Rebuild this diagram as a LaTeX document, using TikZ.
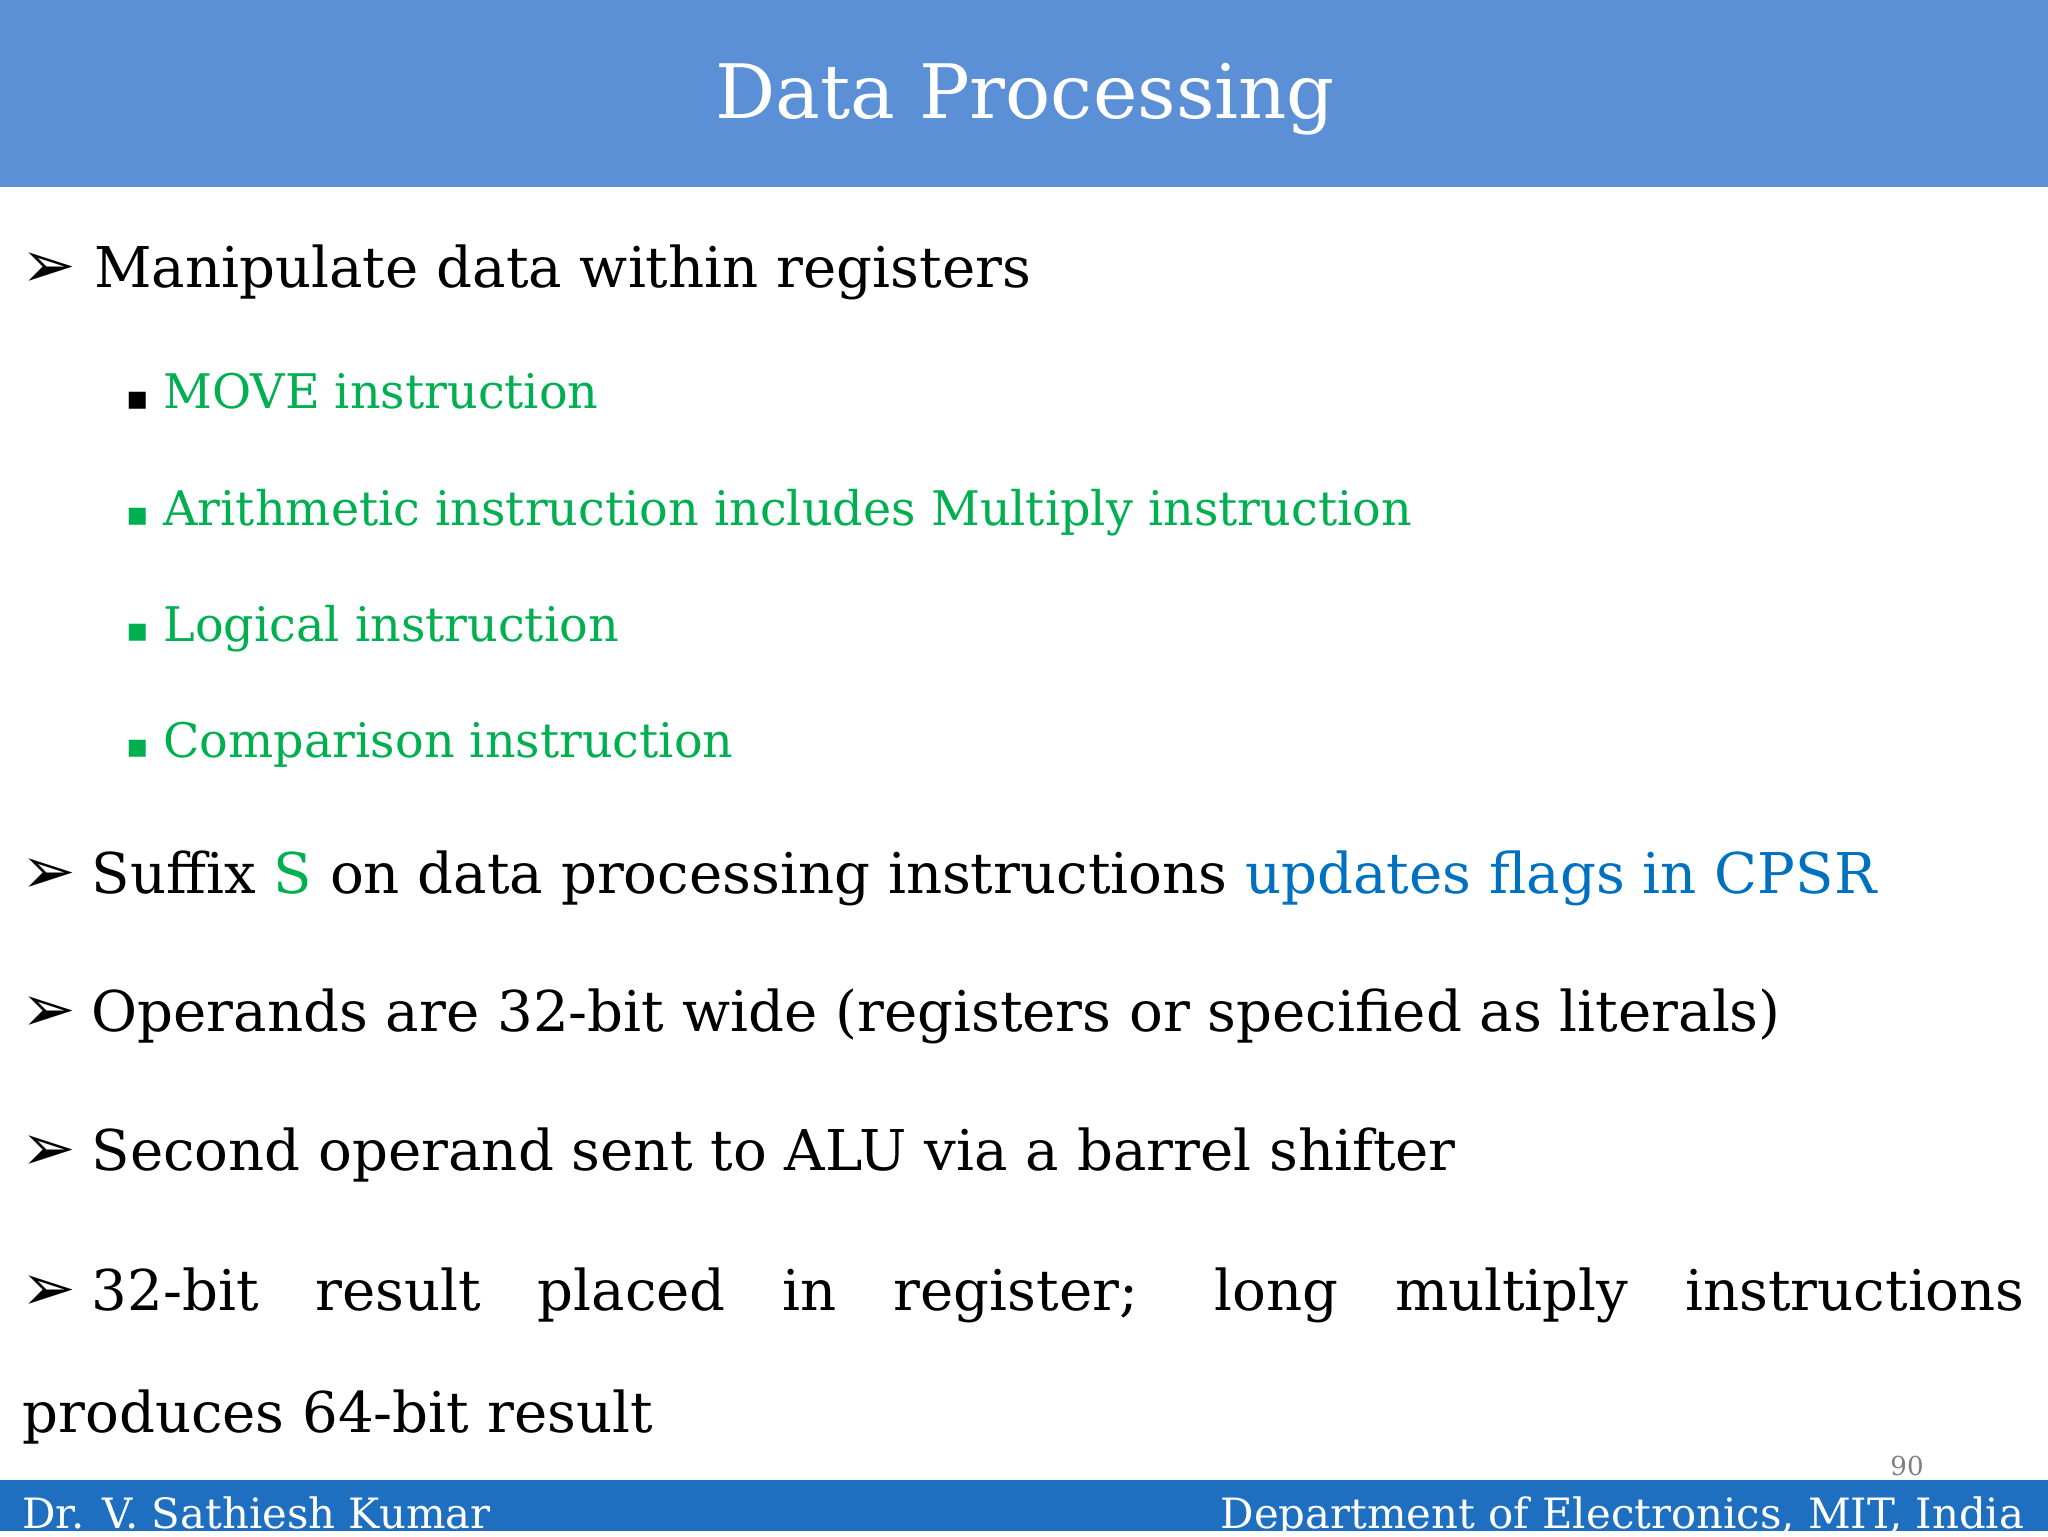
\documentclass[tikz,border=0pt]{standalone}
\usepackage{fontspec}
\setmainfont{DejaVu Serif}
\newfontfamily\symf{DejaVu Sans}
\definecolor{hdr}{HTML}{5B8FD6}
\definecolor{ftr}{HTML}{1F6FC0}
\definecolor{grn}{HTML}{00B050}
\definecolor{blu}{HTML}{0070C0}
\tikzset{
 main/.style={anchor=base west,inner sep=0,font=\fontsize{43}{48}\selectfont},
 sub/.style={anchor=base west,inner sep=0,font=\fontsize{36.5}{40}\selectfont,text=grn},
 arr/.style={anchor=base west,inner sep=0,font=\symf\fontsize{50}{52}\selectfont},
 sq/.style={anchor=base west,inner sep=0,font=\symf\fontsize{17}{20}\selectfont}
}
\begin{document}
\begin{tikzpicture}[x=1pt,y=-1pt]
\useasboundingbox (0,0) rectangle (1568,1176);
\fill[hdr] (0,0) rectangle (1568,143);
\node[inner sep=0,text=white,font=\fontsize{57.5}{62}\selectfont] (title) at (785,76) {Data Processing};
\node[arr] (a1) at (16,220) {➢};
\node[main] (t1) at (72,220) {Manipulate data within registers};
\node[sq] (s1) at (97,311) {■};
\node[sub] (u1) at (125,313) {MOVE instruction};
\node[sq,text=grn] (s2) at (97,400) {■};
\node[sub] (u2) at (125,402) {Arithmetic instruction includes Multiply instruction};
\node[sq,text=grn] (s3) at (97,489) {■};
\node[sub] (u3) at (125,491) {Logical instruction};
\node[sq,text=grn] (s4) at (97,578) {■};
\node[sub] (u4) at (125,580) {Comparison instruction};
\node[arr] (a2) at (16,684) {➢};
\node[main] (t2) at (70,684) {Suffix \textcolor{grn}{S} on data processing instructions \textcolor{blu}{updates flags in CPSR}};
\node[arr] (a3) at (16,790) {➢};
\node[main] (t3) at (70,790) {Operands are 32-bit wide (registers or specified as literals)};
\node[arr] (a4) at (16,896) {➢};
\node[main] (t4) at (70,896) {Second operand sent to ALU via a barrel shifter};
\node[arr] (a5) at (16,1003) {➢};
\node[main] (t5) at (70,1003) {\makebox[1480pt][s]{32-bit result placed in register; long multiply instructions}};
\node[main] (t6) at (17,1097) {produces 64-bit result};
\node[anchor=base east,inner sep=0,text=gray,font=\fontsize{20}{24}\selectfont] (pg) at (1473,1130) {90};
\fill[ftr] (0,1133) rectangle (1568,1172);
\node[anchor=base west,inner sep=0,text=white,font=\fontsize{32}{34}\selectfont] (f1) at (17,1170) {Dr. V. Sathiesh Kumar};
\node[anchor=base east,inner sep=0,text=white,font=\fontsize{32}{34}\selectfont] (f2) at (1550,1170) {Department of Electronics, MIT, India};
\end{tikzpicture}
\end{document}
